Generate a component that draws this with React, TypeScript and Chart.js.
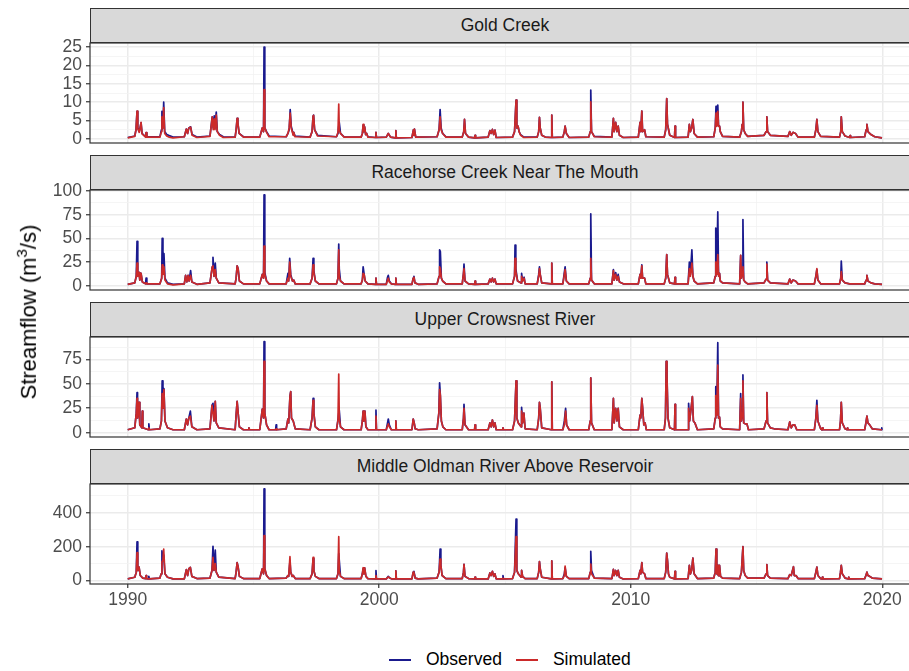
import React, { useEffect, useRef } from "react";
import { Chart, registerables } from "chart.js";

Chart.register(...registerables);

const FONT = '"Liberation Sans", Arial, Helvetica, sans-serif';
const OBS_COLOR = "#1a1a8e";
const SIM_COLOR = "#cb2a2a";

// [decimal year, observed, simulated]
type Row = [number, number, number];

const goldCreek: Row[] = [
  [1990.00, 0.4, 0.3], [1990.28, 0.8, 0.7], [1990.33, 2.5, 2.6], [1990.37, 7.5, 7.6], [1990.40, 3.0, 2.8],
  [1990.46, 2.0, 1.8], [1990.53, 4.4, 4.5], [1990.57, 1.5, 1.4], [1990.71, 0.6, 0.5], [1990.73, 1.7, 1.7],
  [1990.76, 0.6, 0.5],
  [1991.28, 0.6, 0.5], [1991.34, 2.5, 2.0], [1991.36, 7.5, 6.0], [1991.40, 3.0, 3.0], [1991.43, 10.0, 8.5],
  [1991.47, 2.0, 1.5], [1991.55, 1.2, 0.8], [1991.65, 0.9, 0.5], [1991.80, 0.5, 0.3],
  [1992.25, 0.6, 0.6], [1992.33, 2.7, 2.7], [1992.38, 1.5, 1.5], [1992.43, 3.0, 3.0], [1992.50, 3.3, 3.2],
  [1992.56, 1.2, 1.0], [1992.75, 0.5, 0.4],
  [1993.27, 0.8, 0.7], [1993.36, 6.0, 6.0], [1993.40, 3.0, 2.5], [1993.44, 6.3, 5.5], [1993.47, 3.0, 2.5],
  [1993.52, 7.3, 6.5], [1993.56, 2.0, 2.0], [1993.65, 1.2, 1.0], [1993.80, 0.6, 0.4],
  [1994.27, 0.5, 0.5], [1994.31, 2.5, 2.5], [1994.35, 5.6, 5.6], [1994.38, 4.3, 4.3], [1994.43, 1.5, 1.5],
  [1994.60, 0.6, 0.5],
  [1995.25, 0.5, 0.5], [1995.35, 3.0, 3.0], [1995.40, 2.0, 2.0], [1995.42, 25.0, 13.4], [1995.45, 3.0, 3.0],
  [1995.52, 2.0, 1.8], [1995.62, 0.8, 0.6],
  [1996.30, 0.6, 0.6], [1996.37, 1.5, 1.5], [1996.42, 2.5, 3.0], [1996.46, 8.0, 7.0], [1996.50, 3.5, 3.0],
  [1996.58, 1.2, 1.0], [1996.60, 1.8, 1.8], [1996.65, 0.8, 0.6],
  [1997.25, 0.5, 0.5], [1997.33, 2.0, 2.0], [1997.37, 6.2, 6.3], [1997.39, 6.5, 6.4], [1997.43, 2.5, 2.5],
  [1997.55, 1.0, 0.8],
  [1998.30, 0.6, 0.6], [1998.36, 1.5, 1.8], [1998.39, 3.5, 9.5], [1998.41, 4.5, 2.5], [1998.46, 1.5, 1.5],
  [1998.60, 0.6, 0.5],
  [1999.28, 0.5, 0.5], [1999.33, 1.5, 1.5], [1999.36, 3.8, 4.0], [1999.39, 2.0, 2.0], [1999.42, 3.3, 3.3],
  [1999.46, 1.2, 1.2], [1999.50, 1.5, 1.5], [1999.55, 0.6, 0.5], [1999.85, 0.4, 0.4], [1999.87, 1.8, 1.8],
  [1999.89, 0.4, 0.4],
  [2000.28, 0.5, 0.5], [2000.36, 1.5, 1.5], [2000.45, 0.5, 0.5], [2000.64, 0.3, 0.3], [2000.66, 2.3, 2.3],
  [2000.68, 0.3, 0.3],
  [2001.30, 0.4, 0.4], [2001.36, 2.5, 2.5], [2001.38, 1.0, 1.0], [2001.40, 2.7, 2.7], [2001.45, 0.5, 0.5],
  [2002.30, 0.6, 0.6], [2002.38, 2.5, 2.5], [2002.42, 8.0, 6.0], [2002.46, 3.0, 2.5], [2002.52, 1.5, 1.5],
  [2002.65, 0.6, 0.5],
  [2003.30, 0.5, 0.5], [2003.36, 2.0, 2.0], [2003.39, 5.3, 5.3], [2003.43, 1.5, 1.5], [2003.55, 0.5, 0.5],
  [2003.79, 0.3, 0.3], [2003.81, 1.0, 1.0], [2003.83, 0.3, 0.3],
  [2004.33, 0.5, 0.5], [2004.40, 2.3, 2.3], [2004.45, 1.5, 1.5], [2004.50, 2.6, 2.6], [2004.55, 1.2, 1.2],
  [2004.60, 2.4, 2.4], [2004.65, 0.4, 0.4],
  [2005.30, 0.5, 0.5], [2005.38, 2.0, 2.0], [2005.44, 10.6, 10.6], [2005.47, 3.0, 3.0], [2005.52, 3.5, 3.5],
  [2005.56, 2.0, 2.0], [2005.62, 1.2, 1.0], [2005.75, 0.5, 0.4],
  [2006.28, 0.5, 0.5], [2006.34, 2.0, 2.0], [2006.37, 5.9, 5.9], [2006.40, 3.0, 3.0], [2006.46, 1.0, 1.0],
  [2006.60, 0.5, 0.5], [2006.84, 0.4, 0.4], [2006.86, 6.5, 6.5], [2006.88, 0.4, 0.4],
  [2007.30, 0.5, 0.5], [2007.36, 2.0, 2.0], [2007.39, 3.5, 3.5], [2007.44, 1.5, 1.5], [2007.55, 0.4, 0.4],
  [2008.33, 0.5, 0.5], [2008.39, 2.0, 2.0], [2008.41, 13.3, 10.1], [2008.44, 2.0, 2.0], [2008.55, 0.7, 0.6],
  [2009.25, 0.5, 0.5], [2009.31, 5.6, 5.6], [2009.34, 2.0, 2.0], [2009.40, 4.5, 4.5], [2009.45, 2.0, 2.0],
  [2009.50, 3.5, 3.5], [2009.55, 1.0, 1.0], [2009.70, 0.4, 0.4],
  [2010.30, 0.5, 0.5], [2010.37, 4.5, 4.5], [2010.40, 2.0, 2.0], [2010.44, 7.6, 7.6], [2010.47, 2.0, 2.0],
  [2010.55, 2.5, 2.5], [2010.60, 0.6, 0.6],
  [2011.33, 0.5, 0.5], [2011.39, 2.5, 2.5], [2011.43, 11.0, 11.0], [2011.46, 4.0, 4.0], [2011.55, 1.0, 1.0],
  [2011.74, 0.4, 0.4], [2011.76, 3.5, 3.5], [2011.78, 0.4, 0.4],
  [2012.28, 0.5, 0.5], [2012.33, 4.0, 4.0], [2012.37, 2.0, 2.0], [2012.42, 3.0, 3.0], [2012.47, 5.3, 5.3],
  [2012.52, 1.5, 1.5], [2012.65, 0.5, 0.5],
  [2013.30, 0.6, 0.6], [2013.36, 3.0, 3.0], [2013.39, 8.9, 7.0], [2013.42, 4.0, 3.5], [2013.46, 9.2, 7.5],
  [2013.49, 3.5, 3.5], [2013.53, 3.5, 3.5], [2013.56, 2.0, 2.0], [2013.65, 0.7, 0.7],
  [2014.33, 0.5, 0.5], [2014.40, 2.0, 2.0], [2014.43, 4.0, 4.0], [2014.46, 10.0, 10.0], [2014.49, 2.5, 2.5],
  [2014.55, 1.5, 1.5], [2014.65, 0.7, 0.7],
  [2015.30, 1.0, 1.0], [2015.38, 2.0, 2.0], [2015.41, 6.0, 6.0], [2015.44, 2.0, 2.0], [2015.55, 1.0, 1.0],
  [2016.25, 0.7, 0.7], [2016.32, 2.0, 2.0], [2016.38, 1.0, 1.0], [2016.45, 1.8, 1.8], [2016.55, 1.5, 1.5],
  [2016.65, 0.5, 0.5],
  [2017.30, 0.5, 0.5], [2017.36, 2.5, 2.5], [2017.40, 5.3, 5.3], [2017.44, 2.0, 2.0], [2017.55, 0.7, 0.7],
  [2018.30, 0.5, 0.5], [2018.35, 2.0, 2.0], [2018.37, 6.0, 6.0], [2018.41, 2.0, 2.0], [2018.52, 0.8, 0.8],
  [2018.70, 0.4, 0.4], [2018.72, 0.9, 0.9], [2018.74, 0.4, 0.4],
  [2019.30, 0.6, 0.6], [2019.36, 2.5, 2.5], [2019.39, 4.0, 4.0], [2019.43, 2.0, 2.0], [2019.55, 1.2, 1.2],
  [2019.70, 0.6, 0.6], [2019.99, 0.3, 0.3],
];

const racehorseCreek: Row[] = [
  [1990.00, 1.5, 1.5], [1990.28, 3, 3], [1990.34, 10, 10], [1990.37, 47, 24], [1990.40, 12, 10],
  [1990.45, 14, 14], [1990.48, 6, 6], [1990.53, 13, 13], [1990.58, 4, 4], [1990.71, 2, 2], [1990.73, 8, 3],
  [1990.76, 2, 2],
  [1991.28, 2, 2], [1991.35, 8, 8], [1991.37, 50, 22], [1991.40, 14, 12], [1991.44, 34, 20], [1991.48, 8, 6],
  [1991.58, 3, 2], [1991.80, 1.5, 1],
  [1992.25, 2, 2], [1992.30, 11, 11], [1992.35, 4, 4], [1992.40, 11, 11], [1992.44, 5, 5], [1992.50, 16, 11],
  [1992.55, 4, 4], [1992.75, 1.5, 1.5],
  [1993.27, 3, 3], [1993.36, 20, 20], [1993.39, 30, 21], [1993.43, 10, 10], [1993.48, 24, 17], [1993.52, 8, 8],
  [1993.62, 3, 3],
  [1994.27, 2, 2], [1994.31, 8, 8], [1994.35, 21, 21], [1994.39, 18, 18], [1994.44, 5, 5], [1994.60, 2, 2],
  [1995.25, 2, 2], [1995.35, 12, 12], [1995.40, 8, 8], [1995.42, 96, 42], [1995.45, 14, 12], [1995.52, 5, 5],
  [1995.62, 2, 2],
  [1996.30, 2, 2], [1996.37, 13, 8], [1996.40, 5, 5], [1996.44, 29, 25], [1996.48, 12, 10], [1996.55, 5, 5],
  [1996.60, 6, 6], [1996.66, 2, 2],
  [1997.25, 2, 2], [1997.33, 8, 8], [1997.37, 29, 22], [1997.40, 16, 14], [1997.46, 5, 5], [1997.60, 2, 2],
  [1998.30, 2, 2], [1998.36, 8, 8], [1998.39, 44, 38], [1998.41, 18, 10], [1998.46, 5, 5], [1998.60, 2, 2],
  [1999.28, 2, 2], [1999.33, 6, 6], [1999.36, 20, 13], [1999.40, 12, 12], [1999.44, 5, 5], [1999.55, 2, 2],
  [1999.85, 1.5, 1.5], [1999.87, 8, 8], [1999.89, 1.5, 1.5],
  [2000.28, 1.5, 1.5], [2000.33, 9, 6], [2000.36, 11, 8], [2000.40, 5, 4], [2000.48, 2, 2], [2000.64, 1.5, 1.5],
  [2000.66, 8, 8], [2000.68, 1.5, 1.5],
  [2001.30, 1.5, 1.5], [2001.35, 8, 8], [2001.38, 10, 9], [2001.42, 3, 3], [2001.55, 1.5, 1.5],
  [2002.30, 2, 2], [2002.38, 10, 10], [2002.40, 38, 20], [2002.43, 36, 18], [2002.47, 8, 8], [2002.52, 5, 5],
  [2002.65, 2, 2],
  [2003.30, 2, 2], [2003.35, 13, 13], [2003.37, 23, 18], [2003.41, 5, 5], [2003.55, 2, 2], [2003.79, 1.5, 1.5],
  [2003.81, 5, 5], [2003.83, 1.5, 1.5],
  [2004.33, 2, 2], [2004.40, 7, 7], [2004.45, 4, 4], [2004.50, 8, 8], [2004.55, 4, 4], [2004.60, 7, 7],
  [2004.65, 2, 2],
  [2005.30, 2, 2], [2005.38, 10, 10], [2005.40, 43, 29], [2005.43, 18, 15], [2005.50, 5, 5], [2005.64, 3, 3],
  [2005.66, 13, 10], [2005.70, 5, 5], [2005.76, 9, 8], [2005.80, 2, 2],
  [2006.28, 2, 2], [2006.34, 12, 10], [2006.37, 20, 18], [2006.40, 12, 12], [2006.46, 3, 3], [2006.84, 2, 2],
  [2006.86, 24, 24], [2006.88, 2, 2],
  [2007.30, 2, 2], [2007.35, 12, 10], [2007.39, 20, 17], [2007.44, 5, 5], [2007.55, 2, 2],
  [2008.33, 2, 2], [2008.39, 8, 8], [2008.41, 76, 29], [2008.44, 6, 6], [2008.55, 2, 2],
  [2009.25, 2, 2], [2009.31, 17, 16], [2009.34, 6, 6], [2009.40, 14, 12], [2009.45, 6, 6], [2009.50, 12, 10],
  [2009.55, 4, 4], [2009.70, 2, 2],
  [2010.30, 2, 2], [2010.37, 12, 12], [2010.40, 8, 8], [2010.44, 22, 21], [2010.47, 8, 8], [2010.55, 8, 8],
  [2010.60, 2, 2],
  [2011.33, 2, 2], [2011.39, 8, 8], [2011.43, 33, 33], [2011.46, 12, 12], [2011.55, 3, 3], [2011.74, 2, 2],
  [2011.76, 9, 9], [2011.78, 2, 2],
  [2012.28, 2, 2], [2012.33, 25, 18], [2012.37, 12, 10], [2012.43, 38, 24], [2012.47, 10, 10], [2012.52, 5, 5],
  [2012.65, 2, 2],
  [2013.30, 3, 3], [2013.36, 10, 10], [2013.38, 61, 25], [2013.42, 15, 12], [2013.46, 78, 33], [2013.49, 12, 10],
  [2013.53, 13, 13], [2013.56, 5, 5], [2013.65, 3, 3],
  [2014.33, 2, 2], [2014.37, 32, 32], [2014.40, 8, 8], [2014.44, 15, 15], [2014.46, 70, 20], [2014.49, 6, 6],
  [2014.55, 4, 4], [2014.65, 2, 2],
  [2015.30, 3, 3], [2015.38, 7, 7], [2015.41, 25, 23], [2015.44, 6, 6], [2015.55, 3, 3],
  [2016.25, 2, 2], [2016.32, 7, 7], [2016.38, 3, 3], [2016.45, 6, 6], [2016.55, 5, 5], [2016.65, 2, 2],
  [2017.30, 2, 2], [2017.36, 10, 10], [2017.40, 17, 18], [2017.44, 6, 6], [2017.55, 2, 2],
  [2018.30, 2, 2], [2018.35, 8, 8], [2018.37, 26, 15], [2018.41, 6, 6], [2018.52, 3, 3], [2018.70, 2, 2],
  [2019.30, 2, 2], [2019.36, 6, 6], [2019.39, 11, 11], [2019.43, 5, 5], [2019.55, 3, 3], [2019.70, 2, 2],
  [2019.99, 1.5, 1.5],
];

const upperCrowsnest: Row[] = [
  [1990.00, 3, 3], [1990.28, 5, 5], [1990.34, 20, 20], [1990.37, 41, 35], [1990.39, 15, 15], [1990.45, 31, 31],
  [1990.48, 8, 8], [1990.56, 5, 5], [1990.58, 22, 22], [1990.60, 5, 5], [1990.82, 3, 3], [1990.84, 9, 5],
  [1990.86, 3, 3],
  [1991.28, 4, 4], [1991.34, 12, 12], [1991.37, 53, 40], [1991.40, 25, 25], [1991.44, 45, 44], [1991.48, 12, 12],
  [1991.58, 5, 5], [1991.80, 3, 3],
  [1992.25, 3, 3], [1992.33, 14, 14], [1992.38, 8, 8], [1992.43, 15, 15], [1992.49, 22, 17], [1992.55, 6, 6],
  [1992.75, 3, 3],
  [1993.27, 4, 4], [1993.35, 28, 28], [1993.39, 30, 20], [1993.43, 12, 12], [1993.48, 32, 32], [1993.52, 10, 10],
  [1993.62, 5, 5],
  [1994.27, 3, 3], [1994.31, 18, 18], [1994.35, 32, 32], [1994.39, 20, 20], [1994.44, 6, 6], [1994.60, 3, 3],
  [1994.80, 3, 3], [1994.82, 5, 5], [1994.84, 3, 3],
  [1995.25, 3, 3], [1995.35, 24, 24], [1995.40, 15, 15], [1995.42, 93, 73], [1995.45, 20, 20], [1995.52, 8, 8],
  [1995.62, 3, 3], [1995.88, 3, 3], [1995.90, 8, 4], [1995.92, 3, 3],
  [1996.30, 4, 4], [1996.37, 14, 14], [1996.40, 10, 10], [1996.45, 37, 37], [1996.48, 42, 42], [1996.51, 15, 15],
  [1996.58, 12, 12], [1996.66, 4, 4],
  [1997.25, 3, 3], [1997.33, 15, 15], [1997.37, 35, 33], [1997.40, 20, 20], [1997.46, 6, 6], [1997.60, 3, 3],
  [1998.30, 3, 3], [1998.36, 13, 13], [1998.39, 20, 60], [1998.41, 23, 15], [1998.46, 6, 6], [1998.60, 3, 3],
  [1999.28, 3, 3], [1999.33, 12, 12], [1999.36, 22, 22], [1999.39, 12, 12], [1999.43, 22, 22], [1999.47, 6, 6],
  [1999.55, 3, 3], [1999.85, 3, 3], [1999.87, 23, 17], [1999.89, 3, 3],
  [2000.28, 3, 3], [2000.33, 10, 7], [2000.36, 14, 9], [2000.40, 8, 6], [2000.48, 3, 3], [2000.64, 3, 3],
  [2000.66, 12, 12], [2000.68, 3, 3],
  [2001.30, 3, 3], [2001.35, 14, 14], [2001.39, 10, 10], [2001.43, 4, 4], [2001.55, 3, 3],
  [2002.30, 4, 4], [2002.37, 20, 20], [2002.40, 51, 44], [2002.43, 38, 38], [2002.47, 12, 12], [2002.53, 6, 6],
  [2002.65, 3, 3],
  [2003.30, 3, 3], [2003.35, 15, 15], [2003.37, 29, 25], [2003.41, 8, 8], [2003.55, 3, 3], [2003.79, 3, 3],
  [2003.81, 8, 8], [2003.83, 3, 3],
  [2004.33, 3, 3], [2004.40, 10, 10], [2004.45, 6, 6], [2004.50, 13, 13], [2004.55, 6, 6], [2004.60, 10, 10],
  [2004.65, 3, 3], [2004.90, 3, 3], [2004.92, 5, 5], [2004.94, 3, 3],
  [2005.30, 3, 3], [2005.38, 12, 12], [2005.44, 53, 53], [2005.47, 15, 15], [2005.53, 10, 10], [2005.64, 6, 6],
  [2005.66, 26, 22], [2005.70, 10, 10], [2005.75, 20, 20], [2005.80, 4, 4],
  [2006.28, 3, 3], [2006.34, 15, 15], [2006.37, 31, 31], [2006.40, 25, 25], [2006.46, 5, 5], [2006.84, 3, 3],
  [2006.86, 52, 52], [2006.88, 3, 3],
  [2007.30, 3, 3], [2007.36, 12, 8], [2007.41, 25, 22], [2007.45, 8, 8], [2007.55, 3, 3],
  [2008.33, 3, 3], [2008.39, 12, 12], [2008.41, 56, 56], [2008.44, 10, 10], [2008.55, 3, 3],
  [2009.25, 3, 3], [2009.31, 35, 35], [2009.34, 10, 10], [2009.40, 25, 25], [2009.45, 12, 12], [2009.50, 25, 25],
  [2009.55, 6, 6], [2009.70, 3, 3],
  [2010.30, 3, 3], [2010.37, 18, 18], [2010.40, 15, 15], [2010.44, 35, 35], [2010.47, 26, 26], [2010.52, 8, 8],
  [2010.57, 10, 10], [2010.62, 3, 3],
  [2011.33, 3, 3], [2011.38, 15, 15], [2011.41, 73, 73], [2011.44, 58, 58], [2011.48, 15, 15], [2011.55, 5, 5],
  [2011.74, 3, 3], [2011.76, 29, 29], [2011.78, 3, 3],
  [2012.28, 3, 3], [2012.30, 30, 25], [2012.34, 12, 12], [2012.40, 25, 25], [2012.45, 37, 37], [2012.49, 12, 12],
  [2012.55, 10, 10], [2012.65, 3, 3],
  [2013.30, 4, 4], [2013.36, 15, 15], [2013.38, 47, 38], [2013.42, 18, 18], [2013.46, 92, 69], [2013.49, 15, 15],
  [2013.53, 16, 16], [2013.56, 6, 6], [2013.65, 4, 4],
  [2014.33, 3, 3], [2014.37, 40, 35], [2014.40, 12, 12], [2014.44, 20, 20], [2014.46, 59, 53], [2014.49, 10, 10],
  [2014.55, 9, 9], [2014.62, 9, 9], [2014.68, 3, 3],
  [2015.30, 4, 4], [2015.38, 12, 12], [2015.41, 41, 41], [2015.44, 10, 10], [2015.55, 5, 5], [2015.70, 4, 4],
  [2016.25, 3, 3], [2016.32, 11, 11], [2016.38, 5, 5], [2016.45, 8, 8], [2016.52, 8, 8], [2016.60, 3, 3],
  [2017.30, 3, 3], [2017.36, 15, 15], [2017.40, 33, 28], [2017.44, 12, 12], [2017.55, 4, 4], [2017.60, 3, 3],
  [2017.62, 5, 5], [2017.64, 3, 3],
  [2018.30, 3, 3], [2018.34, 12, 12], [2018.37, 31, 31], [2018.41, 10, 10], [2018.52, 4, 4], [2018.60, 3, 3],
  [2018.62, 5, 5], [2018.64, 3, 3],
  [2019.30, 3, 3], [2019.35, 10, 10], [2019.39, 17, 17], [2019.43, 10, 10], [2019.50, 8, 8], [2019.60, 4, 4],
  [2019.96, 3, 3], [2019.98, 5, 3], [2019.99, 3, 3],
];

const middleOldman: Row[] = [
  [1990.00, 10, 10], [1990.28, 20, 20], [1990.34, 50, 50], [1990.37, 229, 165], [1990.40, 60, 60],
  [1990.45, 80, 80], [1990.50, 30, 30], [1990.60, 15, 15], [1990.71, 12, 12], [1990.73, 30, 30],
  [1990.75, 12, 12], [1990.82, 10, 10], [1990.84, 25, 12], [1990.86, 10, 10],
  [1991.28, 15, 15], [1991.33, 40, 40], [1991.36, 176, 110], [1991.40, 120, 120], [1991.43, 150, 186],
  [1991.48, 40, 40], [1991.58, 20, 20], [1991.80, 10, 10],
  [1992.25, 10, 10], [1992.33, 65, 65], [1992.38, 30, 30], [1992.43, 70, 70], [1992.49, 78, 78],
  [1992.55, 25, 25], [1992.75, 12, 12],
  [1993.27, 15, 15], [1993.35, 60, 60], [1993.39, 202, 137], [1993.43, 60, 60], [1993.48, 180, 100],
  [1993.52, 50, 50], [1993.62, 20, 20],
  [1994.27, 12, 12], [1994.31, 50, 50], [1994.35, 106, 106], [1994.39, 80, 80], [1994.44, 25, 25],
  [1994.60, 12, 12],
  [1995.25, 12, 12], [1995.35, 70, 70], [1995.40, 40, 40], [1995.42, 541, 265], [1995.45, 70, 70],
  [1995.52, 30, 30], [1995.62, 12, 12],
  [1996.30, 15, 15], [1996.37, 30, 30], [1996.40, 25, 25], [1996.45, 115, 141], [1996.48, 50, 50],
  [1996.54, 25, 25], [1996.58, 30, 30], [1996.66, 12, 12],
  [1997.25, 12, 12], [1997.33, 40, 40], [1997.37, 130, 137], [1997.40, 60, 60], [1997.46, 25, 25],
  [1997.60, 12, 12],
  [1998.30, 12, 12], [1998.36, 40, 40], [1998.39, 160, 259], [1998.41, 120, 60], [1998.46, 25, 25],
  [1998.60, 12, 12],
  [1999.28, 12, 12], [1999.33, 40, 40], [1999.36, 70, 76], [1999.39, 40, 40], [1999.42, 75, 75],
  [1999.47, 25, 25], [1999.55, 12, 12], [1999.85, 10, 10], [1999.87, 59, 30], [1999.89, 10, 10],
  [2000.28, 10, 10], [2000.33, 20, 18], [2000.36, 25, 22], [2000.42, 15, 15], [2000.50, 10, 10],
  [2000.64, 10, 10], [2000.66, 58, 58], [2000.68, 10, 10],
  [2001.30, 10, 10], [2001.35, 50, 50], [2001.38, 55, 45], [2001.43, 15, 15], [2001.55, 10, 10],
  [2002.30, 15, 15], [2002.38, 50, 50], [2002.42, 186, 127], [2002.45, 90, 90], [2002.50, 30, 30],
  [2002.65, 12, 12],
  [2003.30, 12, 12], [2003.35, 50, 50], [2003.37, 96, 96], [2003.41, 25, 25], [2003.55, 12, 12],
  [2003.79, 10, 10], [2003.81, 20, 20], [2003.83, 10, 10],
  [2004.33, 10, 10], [2004.40, 45, 45], [2004.45, 30, 30], [2004.50, 55, 55], [2004.55, 25, 25],
  [2004.60, 40, 40], [2004.65, 10, 10], [2004.90, 10, 10], [2004.92, 30, 15], [2004.94, 10, 10],
  [2005.30, 12, 12], [2005.38, 50, 50], [2005.44, 363, 259], [2005.47, 60, 60], [2005.53, 40, 40],
  [2005.64, 20, 20], [2005.66, 60, 60], [2005.70, 25, 25], [2005.80, 12, 12],
  [2006.28, 12, 12], [2006.34, 50, 50], [2006.37, 112, 112], [2006.40, 70, 70], [2006.46, 20, 20],
  [2006.84, 10, 10], [2006.86, 116, 116], [2006.88, 10, 10],
  [2007.30, 12, 12], [2007.36, 40, 30], [2007.39, 75, 86], [2007.44, 25, 25], [2007.55, 12, 12],
  [2008.33, 12, 12], [2008.39, 50, 50], [2008.41, 173, 98], [2008.44, 60, 40], [2008.55, 15, 15],
  [2009.25, 12, 12], [2009.31, 66, 66], [2009.34, 30, 30], [2009.40, 60, 60], [2009.45, 30, 30],
  [2009.50, 60, 60], [2009.55, 20, 20], [2009.70, 10, 10],
  [2010.30, 12, 12], [2010.37, 60, 60], [2010.40, 40, 40], [2010.44, 106, 106], [2010.47, 50, 50],
  [2010.55, 40, 40], [2010.60, 12, 12],
  [2011.33, 12, 12], [2011.39, 50, 50], [2011.43, 163, 163], [2011.46, 120, 120], [2011.50, 40, 40],
  [2011.55, 20, 20], [2011.74, 10, 10], [2011.76, 55, 55], [2011.78, 10, 10],
  [2012.28, 12, 12], [2012.33, 90, 90], [2012.37, 40, 40], [2012.42, 60, 60], [2012.47, 133, 133],
  [2012.52, 40, 40], [2012.65, 12, 12],
  [2013.30, 15, 15], [2013.36, 50, 50], [2013.39, 186, 186], [2013.42, 40, 40], [2013.46, 90, 90],
  [2013.48, 30, 30], [2013.50, 90, 90], [2013.52, 30, 30], [2013.53, 90, 90], [2013.57, 25, 25],
  [2013.65, 15, 15],
  [2014.33, 12, 12], [2014.40, 50, 50], [2014.46, 200, 200], [2014.49, 60, 60], [2014.55, 30, 30],
  [2014.65, 15, 15],
  [2015.30, 15, 15], [2015.38, 40, 40], [2015.41, 94, 94], [2015.44, 30, 30], [2015.55, 15, 15],
  [2016.25, 12, 12], [2016.32, 35, 35], [2016.38, 30, 30], [2016.47, 82, 82], [2016.50, 30, 30],
  [2016.57, 30, 30], [2016.65, 12, 12],
  [2017.30, 12, 12], [2017.36, 50, 50], [2017.40, 80, 80], [2017.44, 30, 30], [2017.55, 12, 12],
  [2017.60, 10, 10], [2017.62, 20, 20], [2017.64, 10, 10],
  [2018.30, 12, 12], [2018.34, 50, 50], [2018.37, 90, 90], [2018.41, 40, 40], [2018.52, 15, 15],
  [2018.65, 10, 10], [2018.67, 20, 20], [2018.69, 10, 10],
  [2019.30, 12, 12], [2019.35, 30, 30], [2019.39, 50, 50], [2019.43, 30, 30], [2019.50, 25, 25],
  [2019.60, 15, 15], [2019.99, 10, 10],
];

const panelTitles = [
  "Gold Creek",
  "Racehorse Creek Near The Mouth",
  "Upper Crowsnest River",
  "Middle Oldman River Above Reservoir",
];
const panelRows = [goldCreek, racehorseCreek, upperCrowsnest, middleOldman];
const yLimits: [number, number][] = [[-1.1, 26.1], [-4.5, 101.2], [-4.4, 97.8], [-20, 570]];
const yMajorTicks = [
  [0, 5, 10, 15, 20, 25],
  [0, 25, 50, 75, 100],
  [0, 25, 50, 75],
  [0, 200, 400],
];
const yMinorTicks = [
  [2.5, 7.5, 12.5, 17.5, 22.5],
  [12.5, 37.5, 62.5, 87.5],
  [12.5, 37.5, 62.5, 87.5],
  [100, 300, 500],
];
const xMajorTicks = [1990, 2000, 2010, 2020];
const xMinorTicks = [1995, 2005, 2015];
const xLimits: [number, number] = [1988.5, 2021.5];

const PLOT_TOPS = [43, 190, 337, 484];
const PLOT_H = 100;
const STRIP_H = 35;
const PAD_TOP = 15;
const PAD_BOTTOM = 12;
const X_AXIS_H = 40;
const CANVAS_W = 921;
const PLOT_LEFT = 90;

const TICK_FONT = { family: FONT, size: 17.5 };

const borderPlugin = {
  id: "panelBorder",
  afterDraw(chart: any) {
    const { ctx, chartArea } = chart;
    ctx.save();
    ctx.strokeStyle = "#333333";
    ctx.lineWidth = 1.2;
    ctx.strokeRect(chartArea.left, chartArea.top, chartArea.right - chartArea.left, chartArea.bottom - chartArea.top);
    ctx.restore();
  },
};

function Panel({ index }: { index: number }) {
  const ref = useRef<HTMLCanvasElement>(null);
  const last = index === panelTitles.length - 1;
  const height = PAD_TOP + PLOT_H + (last ? X_AXIS_H : PAD_BOTTOM);

  useEffect(() => {
    const rows = panelRows[index];
    const majors = yMajorTicks[index];
    const minors = yMinorTicks[index];
    const chart = new Chart(ref.current!, {
      type: "line",
      data: {
        datasets: [
          {
            label: "Simulated",
            data: rows.map((r) => ({ x: r[0], y: r[2] })),
            borderColor: SIM_COLOR,
            borderWidth: 1.7,
            borderJoinStyle: "round",
            pointRadius: 0,
            tension: 0,
            order: 0,
          },
          {
            label: "Observed",
            data: rows.map((r) => ({ x: r[0], y: r[1] })),
            borderColor: OBS_COLOR,
            borderWidth: 1.7,
            borderJoinStyle: "round",
            pointRadius: 0,
            tension: 0,
            order: 1,
          },
        ],
      },
      options: {
        animation: false,
        responsive: false,
        maintainAspectRatio: false,
        events: [],
        layout: { padding: { top: PAD_TOP, bottom: last ? 0 : PAD_BOTTOM, left: 0, right: 1 } },
        plugins: { legend: { display: false }, tooltip: { enabled: false } },
        scales: {
          x: {
            type: "linear",
            min: xLimits[0],
            max: xLimits[1],
            afterBuildTicks: (s: any) => {
              s.ticks = [...xMajorTicks, ...xMinorTicks].sort((a, b) => a - b).map((v) => ({ value: v }));
            },
            afterFit: (s: any) => {
              s.height = last ? X_AXIS_H : 0;
              s.paddingLeft = 0;
              s.paddingRight = 0;
            },
            border: { display: false },
            grid: {
              drawTicks: last,
              tickLength: 4,
              tickWidth: 1.2,
              tickColor: (c: any) => (xMajorTicks.includes(c.tick?.value) ? "#333333" : "rgba(0,0,0,0)"),
              color: (c: any) => (xMajorTicks.includes(c.tick?.value) ? "#EBEBEB" : "#F2F2F2"),
              lineWidth: (c: any) => (xMajorTicks.includes(c.tick?.value) ? 1.5 : 0.8),
            },
            ticks: {
              display: last,
              autoSkip: false,
              maxRotation: 0,
              padding: 2,
              color: "#4D4D4D",
              font: TICK_FONT,
              callback: (v: any) => (xMajorTicks.includes(v) ? String(v) : ""),
            },
          },
          y: {
            type: "linear",
            min: yLimits[index][0],
            max: yLimits[index][1],
            afterBuildTicks: (s: any) => {
              s.ticks = [...majors, ...minors].sort((a, b) => a - b).map((v) => ({ value: v }));
            },
            afterFit: (s: any) => {
              s.width = PLOT_LEFT;
              s.paddingTop = 0;
              s.paddingBottom = 0;
            },
            border: { display: false },
            grid: {
              drawTicks: true,
              tickLength: 4,
              tickWidth: 1.2,
              tickColor: (c: any) => (majors.includes(c.tick?.value) ? "#333333" : "rgba(0,0,0,0)"),
              color: (c: any) => (majors.includes(c.tick?.value) ? "#EBEBEB" : "#F2F2F2"),
              lineWidth: (c: any) => (majors.includes(c.tick?.value) ? 1.5 : 0.8),
            },
            ticks: {
              autoSkip: false,
              padding: 4,
              color: "#4D4D4D",
              font: TICK_FONT,
              callback: (v: any) => (majors.includes(v) ? String(v) : ""),
            },
          },
        },
      } as any,
      plugins: [borderPlugin],
    });
    return () => chart.destroy();
  }, [index]);

  return (
    <canvas
      ref={ref}
      width={CANVAS_W}
      height={height}
      style={{ position: "absolute", left: 0, top: PLOT_TOPS[index] - PAD_TOP, width: CANVAS_W, height }}
    />
  );
}

function Strip({ index }: { index: number }) {
  return (
    <div
      style={{
        position: "absolute",
        left: PLOT_LEFT,
        top: PLOT_TOPS[index] - STRIP_H,
        width: CANVAS_W - 1 - PLOT_LEFT,
        height: STRIP_H,
        boxSizing: "border-box",
        border: "1.2px solid #333333",
        background: "#D9D9D9",
        display: "flex",
        alignItems: "center",
        justifyContent: "center",
        fontFamily: FONT,
        fontSize: 17.5,
        color: "#1A1A1A",
      }}
    >
      {panelTitles[index]}
    </div>
  );
}

function LegendKey({ color }: { color: string }) {
  return <span style={{ display: "inline-block", width: 22, height: 2, background: color, marginRight: 15 }} />;
}

export default function App() {
  return (
    <div
      style={{
        position: "fixed",
        left: 0,
        top: 0,
        width: 909,
        height: 671,
        overflow: "hidden",
        background: "#FFFFFF",
        fontFamily: FONT,
      }}
    >
      {panelTitles.map((_, i) => (
        <Strip key={"s" + i} index={i} />
      ))}
      {panelTitles.map((_, i) => (
        <Panel key={"p" + i} index={i} />
      ))}
      <div
        style={{
          position: "absolute",
          left: 27,
          top: 312,
          transform: "translate(-50%, -50%) rotate(-90deg)",
          whiteSpace: "nowrap",
          fontSize: 22,
          lineHeight: 1,
          color: "#000000",
        }}
      >
        Streamflow (m<span style={{ fontSize: "0.7em", verticalAlign: "0.6em" }}>3</span>/s)
      </div>
      <div
        style={{
          position: "absolute",
          left: 389,
          top: 650,
          height: 20,
          display: "flex",
          alignItems: "center",
          fontSize: 17.5,
          lineHeight: 1,
          color: "#000000",
        }}
      >
        <LegendKey color={OBS_COLOR} />
        <span style={{ marginRight: 14 }}>Observed</span>
        <LegendKey color={SIM_COLOR} />
        <span>Simulated</span>
      </div>
    </div>
  );
}
